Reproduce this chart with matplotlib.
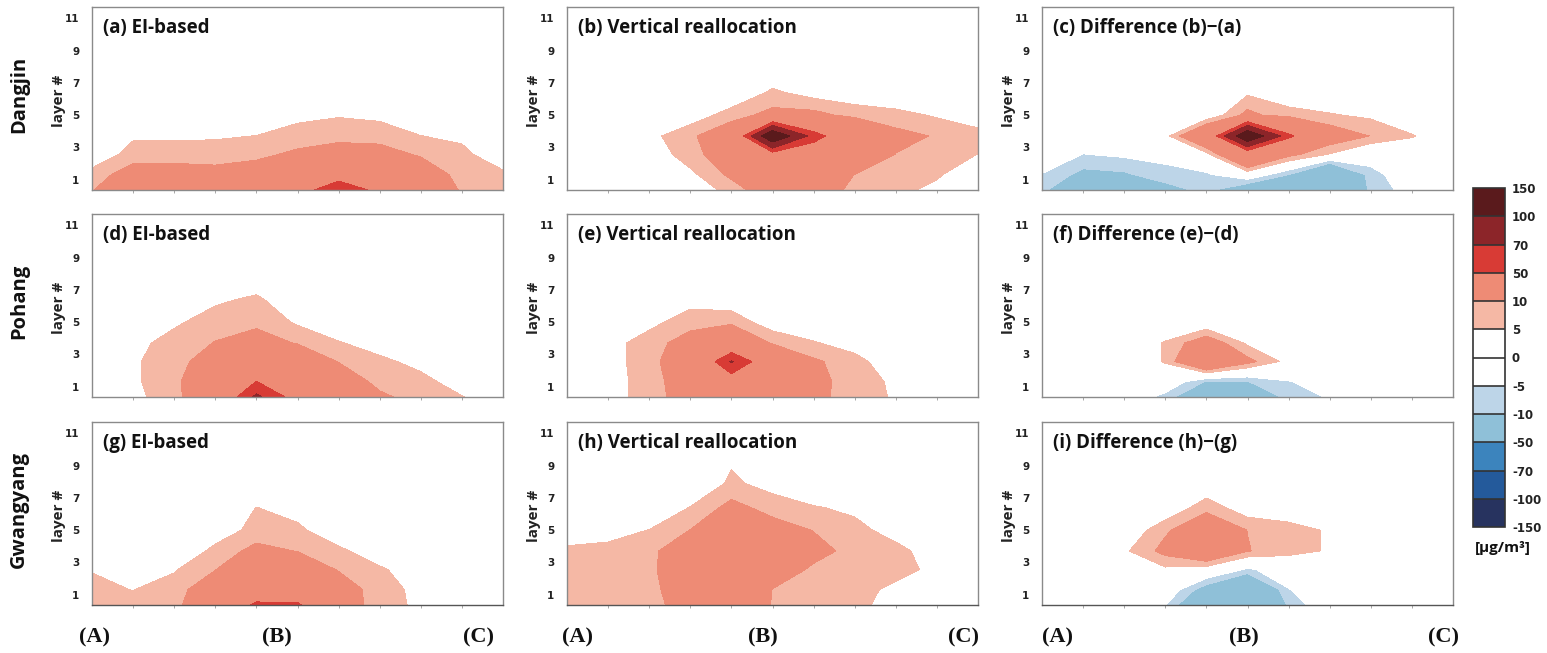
import numpy as np
import matplotlib
matplotlib.use('Agg')
import matplotlib.pyplot as plt
from matplotlib.colors import ListedColormap, BoundaryNorm
from matplotlib.colorbar import ColorbarBase

# grid of the cross-section: 11 points along A-B-C, model layers (y)
x_pos = np.arange(11)
layer_y = [0.35, 1.3, 2.55, 3.7, 5.0, 6.4, 7.9, 9.5]

levels = [-150, -100, -70, -50, -10, -5, 0, 5, 10, 50, 70, 100, 150]
colors = ['#27335f', '#245a9b', '#3c84bd', '#8fc0d8', '#bdd5e8', '#ffffff',
          '#ffffff', '#f5b8a5', '#ee8b75', '#d83b35', '#8c2529', '#5a1a1c']

# concentrations, one row per layer (bottom first), one column per x point
dangjin_ei = [
    [9.5, 20, 20, 22, 25, 43, 60, 46, 25, 8.5, 8],
    [7.5, 12.8, 12.8, 12, 13.1, 25, 42.8, 28, 14.4, 8, 6.5],
    [0, 7.8, 7.8, 7.8, 8.8, 11.1, 12.4, 12.3, 9.4, 7, 0],
    [0, 4, 4, 4.3, 5.1, 7.5, 8.7, 8.2, 5.1, 3.5, 0],
    [0, 0, 0, 0, 0, 3.4, 4.5, 3.6, 0, 0, 0],
    [0, 0, 0, 0, 0, 0, 0, 0, 0, 0, 0],
    [0, 0, 0, 0, 0, 0, 0, 0, 0, 0, 0],
    [0, 0, 0, 0, 0, 0, 0, 0, 0, 0, 0],
]
dangjin_vr = [
    [0, 0, 0, 1, 7, 15, 15, 8, 6, 4, 1],
    [0, 0, 0, 3.6, 11.4, 20, 20, 9.8, 7.5, 5.5, 2],
    [0, 0, 1, 8, 14, 38, 31, 20, 9.8, 7.5, 4.9],
    [0, 0, 3.3, 8.9, 15.7, 130, 60, 25, 12, 9.5, 8],
    [0, 0, 0.5, 1.7, 7.5, 12, 12, 8, 6.8, 4.3, 0.2],
    [0, 0, 0, 0, 0, 6, 2.6, 1.5, 0, 0, 0],
    [0, 0, 0, 0, 0, 0, 0, 0, 0, 0, 0],
    [0, 0, 0, 0, 0, 0, 0, 0, 0, 0, 0],
]
dangjin_diff = [
    [-9, -16, -16, -13, -8, -17.6, -14, -22, -9, -2, 0],
    [-5.3, -12, -11, -6.7, -6, 0.5, -10, -29, -7, -1, 0],
    [0, -5.2, -4, -3.4, 2.8, 27.5, 12, 4.5, -2, 0, 0],
    [0, 0, 0, 2.96, 23.3, 130, 55, 15, 9.8, 5.5, 0.5],
    [0, 0, 0, 0, 0, 12, 6.25, 5.5, 3.86, 0, 0],
    [0, 0, 0, 0, 0, 4, 2.75, 0, 0, 0, 0],
    [0, 0, 0, 0, 0, 0, 0, 0, 0, 0, 0],
    [0, 0, 0, 0, 0, 0, 0, 0, 0, 0, 0],
]
pohang_ei = [
    [0, 4, 7, 21.8, 75, 39, 18, 11, 8, 5.3, 0],
    [0, 4.2, 8, 20, 50.5, 25, 14, 8.5, 7, 2, 0],
    [0, 4.5, 7, 15, 25, 15, 9.8, 6.5, 3, 0, 0],
    [0, 3, 7.5, 10.2, 12, 9.7, 5.5, 2, 0, 0, 0],
    [0, 0, 3.9, 8, 9.1, 4.15, 0, 0, 0, 0, 0],
    [0, 0, 0, 3.8, 6.2, 0, 0, 0, 0, 0, 0],
    [0, 0, 0, 0, 0, 0, 0, 0, 0, 0, 0],
    [0, 0, 0, 0, 0, 0, 0, 0, 0, 0, 0],
]
pohang_vr = [
    [0, 3, 7, 14, 20, 18, 12, 7, 4.5, 0, 0],
    [0, 3, 7, 15, 35.3, 22, 12, 7.5, 4, 0, 0],
    [0, 3, 7.5, 17, 72, 28, 11, 7, 1, 0, 0],
    [0, 3, 7.5, 13, 26, 9, 5.5, 2.5, 0, 0, 0],
    [0, 0, 3.4, 7.8, 8, 2.1, 0, 0, 0, 0, 0],
    [0, 0, 0, 2.9, 2, 0, 0, 0, 0, 0, 0],
    [0, 0, 0, 0, 0, 0, 0, 0, 0, 0, 0],
    [0, 0, 0, 0, 0, 0, 0, 0, 0, 0, 0],
]
pohang_diff = [
    [0, 0, 0, -7, -20, -18, -8, -4.5, 0, 0, 0],
    [0, 0, 0, 0, -10.5, -10.2, -5.3, -2, 0, 0, 0],
    [0, 0, 0, 5.5, 25, 12, 3, 0, 0, 0, 0],
    [0, 0, 0, 5.5, 15, 4, 0, 0, 0, 0, 0],
    [0, 0, 0, 0, 0, 0, 0, 0, 0, 0, 0],
    [0, 0, 0, 0, 0, 0, 0, 0, 0, 0, 0],
    [0, 0, 0, 0, 0, 0, 0, 0, 0, 0, 0],
    [0, 0, 0, 0, 0, 0, 0, 0, 0, 0, 0],
]
gwangyang_ei = [
    [7, 6, 8, 18, 55, 54, 16, 6, 4.5, 0, 0],
    [6, 4.9, 7.5, 15, 30, 28, 15, 6.5, 4, 0, 0],
    [4.8, 2, 4.5, 9.8, 18, 16, 9.5, 6, 1, 0, 0],
    [0, 0, 0, 6.5, 12, 9.8, 6.5, 1, 0, 0, 0],
    [0, 0, 0, 2, 6.7, 6.5, 0, 0, 0, 0, 0],
    [0, 0, 0, 0, 5.1, 2, 0, 0, 0, 0, 0],
    [0, 0, 0, 0, 0, 0, 0, 0, 0, 0, 0],
    [0, 0, 0, 0, 0, 0, 0, 0, 0, 0, 0],
]
gwangyang_vr = [
    [7, 7.5, 8.5, 12.3, 20, 9.5, 7.5, 6, 3.5, 0, 0],
    [7, 7.5, 9, 12.5, 22, 9.8, 8, 6.5, 4, 0, 0],
    [7, 7.5, 9.5, 12.1, 24, 14, 9, 7.5, 6.5, 3.9, 0],
    [6, 6.5, 9, 13.3, 22, 16, 12, 8.3, 6.5, 2.4, 0],
    [2, 3, 5.1, 10.1, 16, 13, 9.8, 6.5, 3, 0, 0],
    [0, 0, 0, 5.2, 12, 7.75, 5.4, 3.9, 0, 0, 0],
    [0, 0, 0, 0, 6, 2.9, 0, 0, 0, 0, 0],
    [0, 0, 0, 0, 4.1, 0, 0, 0, 0, 0, 0],
]
gwangyang_diff = [
    [0, 0, 0, -4.8, -22, -30, -9, 0, 0, 0, 0],
    [0, 0, 0, 0, -14, -26, -5.3, 0, 0, 0, 0],
    [0, 0, 0, 3.9, 2, -6, -1.2, 0, 0, 0, 0],
    [0, 0, 4, 12, 20, 10.3, 7, 4.4, 0, 0, 0],
    [0, 0, 0, 9, 16, 9.9, 7, 4.4, 0, 0, 0],
    [0, 0, 0, 0, 8.2, 1.3, 1.3, 0, 0, 0, 0],
    [0, 0, 0, 0, 0, 0, 0, 0, 0, 0, 0],
    [0, 0, 0, 0, 0, 0, 0, 0, 0, 0, 0],
]

sites = ['Dangjin', 'Pohang', 'Gwangyang']
panels = [
    [dangjin_ei, dangjin_vr, dangjin_diff],
    [pohang_ei, pohang_vr, pohang_diff],
    [gwangyang_ei, gwangyang_vr, gwangyang_diff],
]
titles = [
    ['(a) EI-based', '(b) Vertical reallocation', '(c) Difference (b)\u2212(a)'],
    ['(d) EI-based', '(e) Vertical reallocation', '(f) Difference (e)\u2212(d)'],
    ['(g) EI-based', '(h) Vertical reallocation', '(i) Difference (h)\u2212(g)'],
]
section_labels = ['(A)', '(B)', '(C)']
section_x = [[0.05, 4.5, 9.4], [0.26, 4.77, 9.65], [0.38, 4.9, 9.77]]

W, H = 1547, 653
fig = plt.figure(figsize=(W / 100, H / 100), dpi=100)

col_left = [92, 567, 1042]
row_top = [7, 214, 422]
ax_w, ax_h = 411, 183

for r in range(3):
    for c in range(3):
        ax = fig.add_axes([col_left[c] / W, 1 - (row_top[r] + ax_h) / H, ax_w / W, ax_h / H])
        ax.contourf(x_pos, layer_y, np.array(panels[r][c]), levels=levels, colors=colors)
        ax.set_xlim(0, 10)
        ax.set_ylim(0.35, 11.7)
        ax.set_xticks(range(1, 10))
        ax.set_xticklabels([])
        ax.set_yticks([1, 3, 5, 7, 9, 11])
        ax.set_yticklabels(['1', '3', '5', '7', '9', '11'], fontfamily='DejaVu Sans',
                           fontweight='bold', fontsize=7.5, color='#222222')
        ax.tick_params(axis='x', length=2.5, direction='out', color='#999999', width=0.6)
        ax.tick_params(axis='y', length=0, pad=9)
        for s in ax.spines.values():
            s.set_color('#8a8a8a')
            s.set_linewidth(1.0)
        if r == 2:
            ax.spines['bottom'].set_color('#555555')
        ax.text(0.026, 0.885, titles[r][c], transform=ax.transAxes, ha='left', va='center',
                fontfamily='Open Sans', fontweight='bold', fontsize=13.5, color='#111111')
        yc = 1 - (row_top[r] + ax_h / 2 + 2) / H
        fig.text((col_left[c] - 33) / W, yc, 'layer #', rotation=90, ha='center', va='center',
                 fontfamily='Open Sans', fontweight='bold', fontsize=11, color='#222222')
        if r == 2:
            for lab, xl in zip(section_labels, section_x[c]):
                ax.text(xl, -0.18, lab, transform=ax.get_xaxis_transform(), ha='center',
                        va='center', fontfamily='Liberation Serif', fontweight='bold',
                        fontsize=16, color='#111111')
    fig.text(19 / W, 1 - (row_top[r] + ax_h / 2 - 4) / H, sites[r], rotation=90,
             ha='center', va='center', fontfamily='Open Sans', fontweight='bold',
             fontsize=14.5, color='#111111')

# discrete colour bar
cax = fig.add_axes([1473 / W, 1 - 527 / H, 32 / W, 339 / H])
cb = ColorbarBase(cax, cmap=ListedColormap(colors), norm=BoundaryNorm(levels, len(colors)),
                  boundaries=levels, ticks=levels, spacing='uniform', drawedges=True)
cb.dividers.set_color('#333333')
cb.dividers.set_linewidth(1.2)
cb.outline.set_edgecolor('#333333')
cb.outline.set_linewidth(1.2)
cax.tick_params(length=0, pad=5)
cax.set_yticklabels([str(v) for v in levels], fontfamily='DejaVu Sans', fontweight='bold',
                    fontsize=8.5, color='#222222')
fig.text(1503 / W, 1 - 548 / H, '[\u03bcg/m\u00b3]', ha='center', va='center',
         fontfamily='Open Sans', fontweight='bold', fontsize=11, color='#111111')

fig.savefig('out.png', dpi=100)
